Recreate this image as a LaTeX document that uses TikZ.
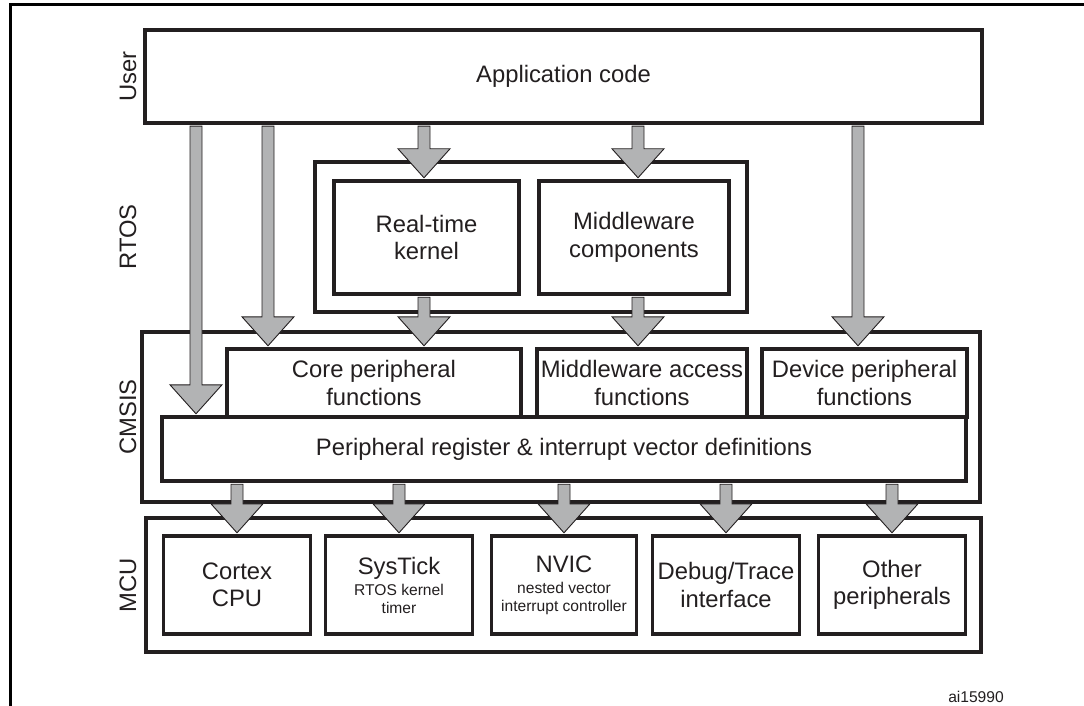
\documentclass[tikz,border=0pt]{standalone}
\usepackage{fontspec}
\setmainfont{Liberation Sans}
\usetikzlibrary{calc}
\definecolor{linec}{RGB}{35,31,32}
\definecolor{arrowgray}{RGB}{178,179,180}
\newcommand\bigf{\fontsize{23.8}{27.5}\selectfont}
\newcommand\smf{\fontsize{15.6}{18}\selectfont}
\begin{document}
\begin{tikzpicture}[x=1pt,y=-1pt,
  box/.style={draw=linec, line width=3.2pt, fill=white, inner sep=0pt, align=center, font=\bigf, text=linec},
  layer/.style={rotate=90, font=\bigf, text=linec, inner sep=0pt},
  fat/.style={fill=arrowgray, draw=linec, line width=0.9pt, line join=miter,
    to path={let \p1=(\tikztostart), \p2=(\tikztotarget) in
      (\x1-6pt,\y1-1.6pt) -- (\x1-6pt,\y2+30.6pt) -- (\x1-26pt,\y2+30.6pt) -- (\x1,\y2+1.6pt)
      -- (\x1+26pt,\y2+30.6pt) -- (\x1+6pt,\y2+30.6pt) -- (\x1+6pt,\y1-1.6pt) -- cycle}}
]
\useasboundingbox (0,0) rectangle (1084,706);
% outer frame
\draw[line width=3pt, black] (1084,5) -- (10,5) -- (10,706);

% layer labels
\node[layer] (luser) at (128,76.5) {User};
\node[layer] (lrtos) at (128,237) {RTOS};
\node[layer] (lcmsis) at (128,417) {CMSIS};
\node[layer] (lmcu) at (128,585) {MCU};

% boxes
\node[box, minimum width=837, minimum height=93] (app) at (563.5,76.5) {Application code};

\node[box, minimum width=432, minimum height=150] (rtos) at (531,237) {};
\node[box, minimum width=185, minimum height=113] (kernel) at (426.5,237.5) {Real-time\\kernel};
\node[box, minimum width=190, minimum height=113] (mwcomp) at (634,237.5) {Middleware\\components};

\node[box, minimum width=838, minimum height=170] (cmsis) at (561,417) {};
\node[box, minimum width=294, minimum height=68] (core) at (374,383) {Core peripheral\\functions};
\node[box, minimum width=210, minimum height=68] (mwacc) at (642,383) {Middleware access\\functions};
\node[box, minimum width=205, minimum height=68] (devp) at (864.5,383) {Device peripheral\\functions};
\node[box, minimum width=804, minimum height=64] (reg) at (564,449) {Peripheral register \& interrupt vector definitions};

\node[box, minimum width=835, minimum height=134] (mcu) at (563.5,585) {};
\node[box, minimum width=147, minimum height=98] (cpu) at (237,585) {Cortex\\CPU};
\node[box, minimum width=147, minimum height=98] (sys) at (399,585) {SysTick\\[-6.5pt]\smf RTOS kernel\\[-9.5pt]\smf timer};
\node[box, minimum width=145, minimum height=98] (nvic) at (564,585) {NVIC\\[-6.5pt]\smf nested vector\\[-9.5pt]\smf interrupt controller};
\node[box, minimum width=147, minimum height=98] (dbg) at (726,585) {Debug/Trace\\interface};
\node[box, minimum width=147, minimum height=98] (oth) at (892,585) {Other\\peripherals};

\node[font=\smf, text=linec, inner sep=0pt] (code) at (976,697) {ai15990};

% arrow x positions
\coordinate (x1) at (196,0);
\coordinate (x2) at (268,0);
\coordinate (x3) at (424,0);
\coordinate (x4) at (638,0);
\coordinate (x5) at (858,0);

% arrows
\draw[fat] (app.south -| x1) to (reg.north -| x1);
\draw[fat] (app.south -| x2) to (core.north -| x2);
\draw[fat] (app.south -| x3) to (kernel.north -| x3);
\draw[fat] (app.south -| x4) to (mwcomp.north -| x4);
\draw[fat] (app.south -| x5) to (devp.north -| x5);
\draw[fat] (kernel.south -| x3) to (core.north -| x3);
\draw[fat] (mwcomp.south -| x4) to (mwacc.north -| x4);
\draw[fat] (reg.south -| cpu) to (cpu.north);
\draw[fat] (reg.south -| sys) to (sys.north);
\draw[fat] (reg.south -| nvic) to (nvic.north);
\draw[fat] (reg.south -| dbg) to (dbg.north);
\draw[fat] (reg.south -| oth) to (oth.north);
\end{tikzpicture}
\end{document}
